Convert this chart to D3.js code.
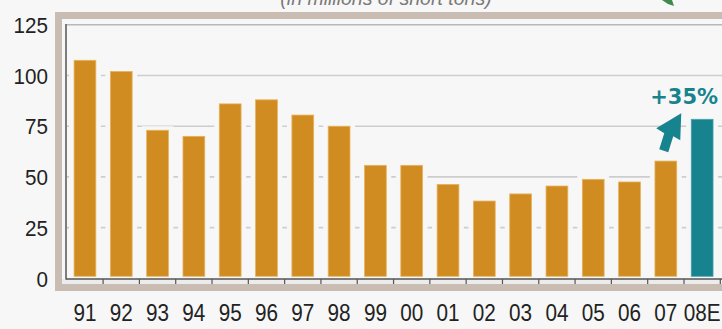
<!DOCTYPE html>
<html>
<head>
<meta charset="utf-8">
<script src="https://cdn.jsdelivr.net/npm/d3@7"></script>
<style>
  body { margin: 0; background: #f7f7f7; }
  svg { display: block; }
</style>
</head>
<body>
<div id="chart"></div>
<script>
// data
const years = ["91","92","93","94","95","96","97","98","99","00","01","02","03","04","05","06","07","08E"];
const tons = [107.5, 102, 73, 70, 86, 88, 80.5, 75, 55.7, 55.7, 46.3, 38.1, 41.6, 45.5, 48.8, 47.5, 57.8, 78.4];
const yTicks = [0, 25, 50, 75, 100, 125];
const estimateLabel = "+35%";

const width = 722, height = 329;
const bg = "#f7f7f7";
const font = "'Liberation Sans', Arial, sans-serif";

const svg = d3.select("#chart").append("svg")
  .attr("width", width)
  .attr("height", height)
  .style("background", bg);

const x = d3.scaleBand()
  .domain(years)
  .range([66.8, 720.3])
  .paddingInner(0.4)
  .paddingOuter(0.2);

const y = d3.scaleLinear()
  .domain([0, 125])
  .range([278.3, 24.8]);

// subtitle, cut off at the top like in the source
svg.append("text")
  .attr("x", 386).attr("y", 5)
  .attr("text-anchor", "middle")
  .style("font", "italic 19.5px " + font)
  .style("fill", "#7a7a7a")
  .text("(in millions of short tons)");

// bit of a green arrow at the top right
svg.append("path")
  .attr("d", "M662,0 L672,0 L674,6 L668,4 Z")
  .attr("fill", "#3f8a4e");

// beige frame
svg.append("rect")
  .attr("x", 58.5).attr("y", 15.5)
  .attr("width", 700).attr("height", 272)
  .attr("fill", "none")
  .attr("stroke", "#c8bcb3")
  .attr("stroke-width", 7);

// light strip under the axis
svg.append("rect")
  .attr("x", 62).attr("y", 279)
  .attr("width", 700).attr("height", 5)
  .attr("fill", "#ececec");

// gridlines
svg.append("g")
  .selectAll("line")
  .data(yTicks.filter(d => d > 0))
  .enter()
  .append("line")
  .attr("x1", 67).attr("x2", 722)
  .attr("y1", d => y(d)).attr("y2", d => y(d))
  .attr("stroke", d => d === 125 ? "#b8b8b8" : "#cdcdcd")
  .attr("stroke-width", 1.6);

// background halo round each bar, hides gridlines next to it
svg.append("g")
  .selectAll("rect")
  .data(tons)
  .enter()
  .append("rect")
  .attr("x", (d, i) => x(years[i]) - 5)
  .attr("y", d => y(d) - 4)
  .attr("width", x.bandwidth() + 10)
  .attr("height", d => y(0) - y(d) + 4)
  .attr("fill", bg);

// bars
svg.append("g")
  .selectAll("rect")
  .data(tons)
  .enter()
  .append("rect")
  .attr("x", (d, i) => x(years[i]))
  .attr("y", d => y(d))
  .attr("width", x.bandwidth())
  .attr("height", d => y(0) - y(d) - 2)
  .attr("fill", (d, i) => i === years.length - 1 ? "#17838f" : "#d08c20")
  .attr("stroke", (d, i) => i === years.length - 1 ? "#4aa3ad" : "#e7b35c")
  .attr("stroke-width", 0.8);

// x axis, labels only; the line and ticks drawn below
const gx = svg.append("g")
  .attr("transform", "translate(0,279)")
  .call(d3.axisBottom(x).tickSize(0).tickPadding(26));
gx.select(".domain").remove();
gx.selectAll("text")
  .style("font", "23px " + font)
  .style("fill", "#222")
  .attr("transform", "scale(0.9,1)");

svg.append("line")
  .attr("x1", 66).attr("x2", 722)
  .attr("y1", 279).attr("y2", 279)
  .attr("stroke", "#555").attr("stroke-width", 1.5);

// ticks sit between the categories
svg.append("g")
  .selectAll("line")
  .data(years)
  .enter()
  .append("line")
  .attr("x1", d => x(d) + x.bandwidth() + x.step() * x.paddingInner() / 2)
  .attr("x2", d => x(d) + x.bandwidth() + x.step() * x.paddingInner() / 2)
  .attr("y1", 279).attr("y2", 284)
  .attr("stroke", "#555").attr("stroke-width", 1.2);

// y axis
svg.append("line")
  .attr("x1", 66).attr("x2", 66)
  .attr("y1", 24).attr("y2", 279.5)
  .attr("stroke", "#555").attr("stroke-width", 1.5);

const gy = svg.append("g")
  .attr("transform", "translate(48,0)")
  .call(d3.axisLeft(y).tickValues(yTicks).tickSize(0).tickPadding(0));
gy.select(".domain").remove();
gy.selectAll("text")
  .style("font", "21.5px " + font)
  .style("fill", "#222")
  .attr("dy", "0.36em")
  .attr("transform", "scale(0.96,1)");

// +35% callout on the estimate bar
const last = years[years.length - 1];
const bx = x(last), by = y(tons[tons.length - 1]);
svg.append("path")
  .attr("d", `M${bx - 10},${by - 6} L${bx - 11},${by + 21} L${bx - 18},${by + 17}` +
             ` L${bx - 23},${by + 33} L${bx - 32},${by + 30} L${bx - 27},${by + 14}` +
             ` L${bx - 35},${by + 9} Z`)
  .attr("fill", "#17838f");

svg.append("text")
  .attr("x", bx - 41)
  .attr("y", by - 15)
  .style("font", "bold 21px 'DejaVu Sans', Verdana, sans-serif")
  .style("fill", "#17838f")
  .text(estimateLabel);
</script>
</body>
</html>
